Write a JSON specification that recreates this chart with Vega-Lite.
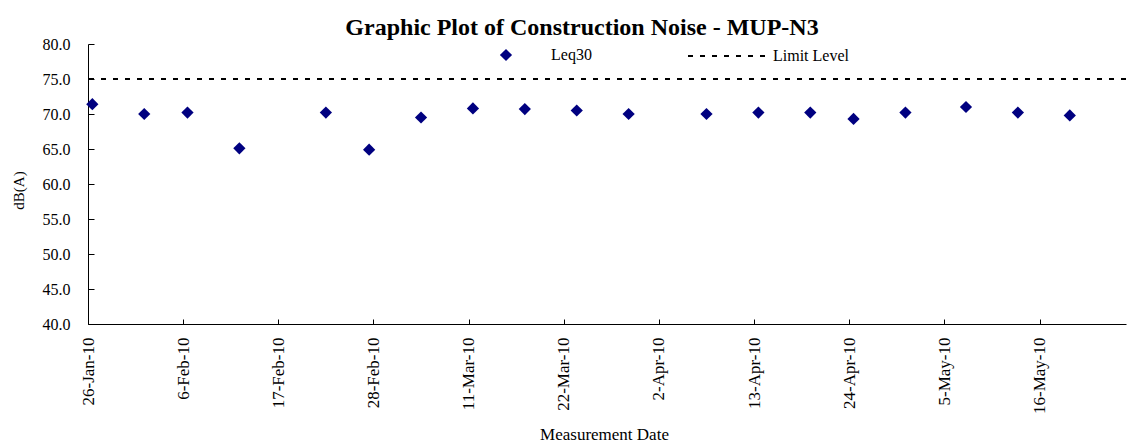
{
  "$schema": "https://vega.github.io/schema/vega-lite/v6.json",
  "autosize": {"type": "none"},
  "padding": {"left": 88, "top": 44, "right": 11, "bottom": 119},
  "width": 1038,
  "height": 280,
  "background": "white",
  "title": {
    "text": "Graphic Plot of Construction Noise - MUP-N3",
    "font": "Liberation Serif",
    "fontSize": 24,
    "fontWeight": "bold",
    "color": "#000000",
    "anchor": "middle",
    "frame": "group",
    "baseline": "alphabetic",
    "offset": 7,
    "dx": -25,
    "dy": 30
  },
  "datasets": {
    "noise": [
      {"date": "2010-01-26", "leq": 71.4, "series": "Leq30"},
      {"date": "2010-02-01", "leq": 70.0, "series": "Leq30"},
      {"date": "2010-02-06", "leq": 70.2, "series": "Leq30"},
      {"date": "2010-02-12", "leq": 65.1, "series": "Leq30"},
      {"date": "2010-02-22", "leq": 70.2, "series": "Leq30"},
      {"date": "2010-02-27", "leq": 64.9, "series": "Leq30"},
      {"date": "2010-03-05", "leq": 69.5, "series": "Leq30"},
      {"date": "2010-03-11", "leq": 70.8, "series": "Leq30"},
      {"date": "2010-03-17", "leq": 70.7, "series": "Leq30"},
      {"date": "2010-03-23", "leq": 70.5, "series": "Leq30"},
      {"date": "2010-03-29", "leq": 70.0, "series": "Leq30"},
      {"date": "2010-04-07", "leq": 70.0, "series": "Leq30"},
      {"date": "2010-04-13", "leq": 70.2, "series": "Leq30"},
      {"date": "2010-04-19", "leq": 70.2, "series": "Leq30"},
      {"date": "2010-04-24", "leq": 69.3, "series": "Leq30"},
      {"date": "2010-04-30", "leq": 70.2, "series": "Leq30"},
      {"date": "2010-05-07", "leq": 71.0, "series": "Leq30"},
      {"date": "2010-05-13", "leq": 70.2, "series": "Leq30"},
      {"date": "2010-05-19", "leq": 69.8, "series": "Leq30"}
    ],
    "limit": [
      {"series": "Limit Level", "level": 75}
    ]
  },
  "config": {
    "view": {"stroke": null},
    "font": "Liberation Serif",
    "axis": {
      "grid": false,
      "domainColor": "#000000",
      "domainWidth": 1,
      "tickColor": "#000000",
      "tickWidth": 1,
      "labelFont": "Liberation Serif",
      "labelColor": "#000000",
      "titleFont": "Liberation Serif",
      "titleColor": "#000000",
      "titleFontWeight": "normal"
    },
    "legend": {
      "labelFont": "Liberation Serif",
      "labelFontSize": 16,
      "labelColor": "#000000",
      "padding": 0
    }
  },
  "layer": [
    {
      "data": {"name": "noise"},
      "mark": {"type": "point", "shape": "diamond", "filled": true, "size": 150, "opacity": 1},
      "encoding": {
        "x": {
          "field": "date",
          "type": "temporal",
          "timeUnit": "utcyearmonthdate",
          "bandPosition": 0.5,
          "scale": {
            "type": "utc",
            "domain": [
              {"year": 2010, "month": 1, "date": 26, "utc": true},
              {"year": 2010, "month": 5, "date": 26, "utc": true}
            ],
            "nice": false
          },
          "axis": {
            "title": "Measurement Date",
            "titleFontSize": 17,
            "titleX": 516,
            "titleY": 115,
            "titleBaseline": "alphabetic",
            "titleAlign": "center",
            "format": "%-d-%b-%y",
            "labelAngle": 270,
            "labelFontSize": 17,
            "labelPadding": 18,
            "tickSize": -5,
            "labelOverlap": false,
            "values": [
              {"year": 2010, "month": 1, "date": 26, "utc": true},
              {"year": 2010, "month": 2, "date": 6, "utc": true},
              {"year": 2010, "month": 2, "date": 17, "utc": true},
              {"year": 2010, "month": 2, "date": 28, "utc": true},
              {"year": 2010, "month": 3, "date": 11, "utc": true},
              {"year": 2010, "month": 3, "date": 22, "utc": true},
              {"year": 2010, "month": 4, "date": 2, "utc": true},
              {"year": 2010, "month": 4, "date": 13, "utc": true},
              {"year": 2010, "month": 4, "date": 24, "utc": true},
              {"year": 2010, "month": 5, "date": 5, "utc": true},
              {"year": 2010, "month": 5, "date": 16, "utc": true}
            ]
          }
        },
        "y": {
          "field": "leq",
          "type": "quantitative",
          "scale": {"domain": [40, 80], "nice": false},
          "axis": {
            "title": "dB(A)",
            "titleFontSize": 15,
            "titleAngle": 270,
            "titleX": -70,
            "titleY": 146,
            "titleAlign": "center",
            "titleBaseline": "middle",
            "values": [40, 45, 50, 55, 60, 65, 70, 75, 80],
            "format": ".1f",
            "labelFontSize": 16,
            "labelPadding": 24,
            "labelOverlap": false,
            "tickSize": -6
          }
        },
        "color": {
          "field": "series",
          "type": "nominal",
          "scale": {"domain": ["Leq30"], "range": ["#000080"]},
          "legend": {
            "title": null,
            "orient": "none",
            "legendX": 410,
            "legendY": 3,
            "symbolType": "diamond",
            "symbolSize": 150,
            "symbolOpacity": 1,
            "labelOffset": 37
          }
        }
      }
    },
    {
      "data": {"name": "limit"},
      "mark": {"type": "rule", "color": "#000000", "strokeWidth": 2},
      "encoding": {
        "y": {
          "field": "level",
          "type": "quantitative",
          "scale": {"domain": [40, 80], "nice": false},
          "axis": {
            "title": "dB(A)",
            "titleFontSize": 15,
            "titleAngle": 270,
            "titleX": -70,
            "titleY": 146,
            "titleAlign": "center",
            "titleBaseline": "middle",
            "values": [40, 45, 50, 55, 60, 65, 70, 75, 80],
            "format": ".1f",
            "labelFontSize": 16,
            "labelPadding": 24,
            "labelOverlap": false,
            "tickSize": -6
          }
        },
        "strokeDash": {
          "field": "series",
          "type": "nominal",
          "scale": {"domain": ["Limit Level"], "range": [[5, 7]]},
          "legend": {
            "title": null,
            "orient": "none",
            "legendX": 631,
            "legendY": 4,
            "symbolType": "M-6,0H6",
            "symbolSize": 169,
            "symbolStrokeWidth": 2,
            "symbolStrokeColor": "#000000",
            "symbolFillColor": "transparent",
            "labelOffset": 38
          }
        }
      }
    }
  ]
}
